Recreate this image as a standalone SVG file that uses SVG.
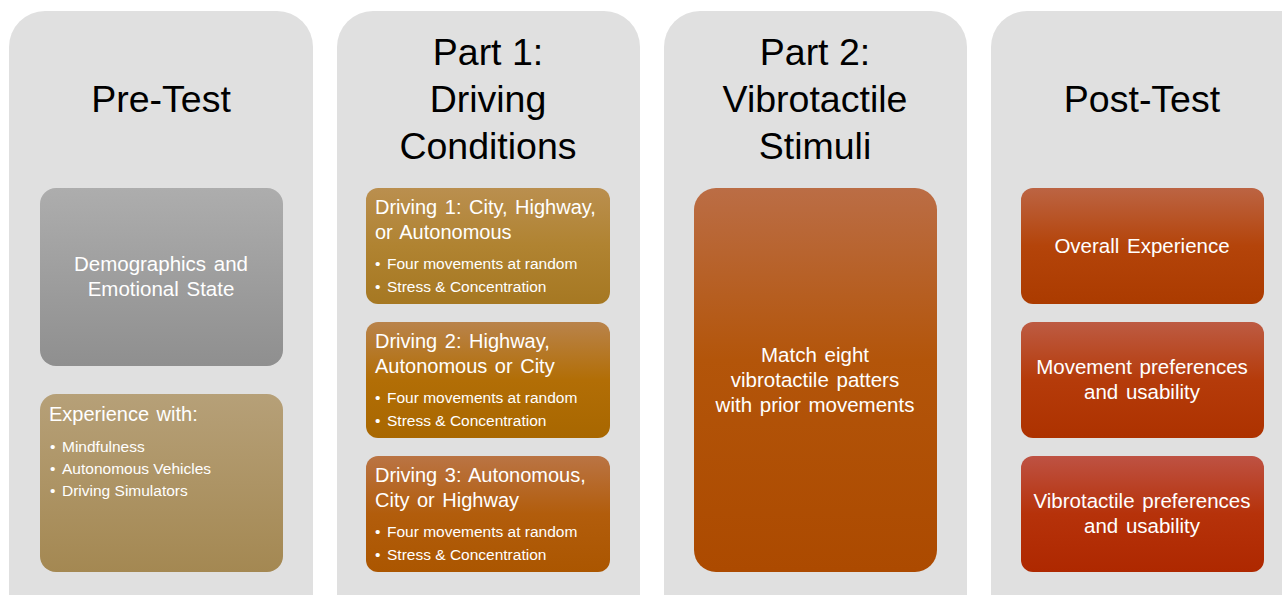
<svg xmlns="http://www.w3.org/2000/svg" width="1282" height="595" viewBox="0 0 1282 595">
  <defs>
    <linearGradient id="gGray" x1="0" y1="0" x2="0" y2="1">
      <stop offset="0" stop-color="#adadad"/>
      <stop offset="1" stop-color="#8f8f8f"/>
    </linearGradient>
    <linearGradient id="gSand" x1="0" y1="0" x2="0" y2="1">
      <stop offset="0" stop-color="#b6a078"/>
      <stop offset="1" stop-color="#a48852"/>
    </linearGradient>
    <linearGradient id="gD1" x1="0" y1="0" x2="0" y2="1">
      <stop offset="0" stop-color="#ba8f4f"/>
      <stop offset="0.5" stop-color="#b08331"/>
      <stop offset="1" stop-color="#a67822"/>
    </linearGradient>
    <linearGradient id="gD2" x1="0" y1="0" x2="0" y2="1">
      <stop offset="0" stop-color="#b9834b"/>
      <stop offset="0.5" stop-color="#b26e06"/>
      <stop offset="1" stop-color="#a86700"/>
    </linearGradient>
    <linearGradient id="gD3" x1="0" y1="0" x2="0" y2="1">
      <stop offset="0" stop-color="#ba7444"/>
      <stop offset="0.5" stop-color="#b25d0c"/>
      <stop offset="1" stop-color="#ab5600"/>
    </linearGradient>
    <linearGradient id="gStim" x1="0" y1="0" x2="0" y2="1">
      <stop offset="0" stop-color="#bb6d45"/>
      <stop offset="0.45" stop-color="#b3550a"/>
      <stop offset="1" stop-color="#ac4a00"/>
    </linearGradient>
    <linearGradient id="gP1" x1="0" y1="0" x2="0" y2="1">
      <stop offset="0" stop-color="#bc6443"/>
      <stop offset="0.5" stop-color="#b4440a"/>
      <stop offset="1" stop-color="#ab3b00"/>
    </linearGradient>
    <linearGradient id="gP2" x1="0" y1="0" x2="0" y2="1">
      <stop offset="0" stop-color="#bd5b43"/>
      <stop offset="0.5" stop-color="#b53b0a"/>
      <stop offset="1" stop-color="#ad3200"/>
    </linearGradient>
    <linearGradient id="gP3" x1="0" y1="0" x2="0" y2="1">
      <stop offset="0" stop-color="#be5243"/>
      <stop offset="0.5" stop-color="#b6320a"/>
      <stop offset="1" stop-color="#ae2800"/>
    </linearGradient>
  </defs>
  <style>
    .col { fill: #e0e0e0; }
    .box { stroke: none; }
    .title { font-family: "Liberation Sans", Arial, sans-serif; font-size: 37.5px; fill: #000; text-anchor: middle; }
    .mid { font-family: "Liberation Sans", Arial, sans-serif; font-size: 20.5px; fill: #fff; text-anchor: middle; word-spacing: 2px; }
    .head { font-family: "Liberation Sans", Arial, sans-serif; font-size: 20px; fill: #fff; word-spacing: 2px; }
    .item { font-family: "Liberation Sans", Arial, sans-serif; font-size: 15.5px; fill: #fff; }
  </style>

  <rect width="1282" height="595" fill="#ffffff"/>

  <!-- column backgrounds -->
  <g id="col-pretest"><rect class="col" x="9" y="11" width="304" height="630" rx="36"/></g>
  <g id="col-part1"><rect class="col" x="337" y="11" width="303" height="630" rx="36"/></g>
  <g id="col-part2"><rect class="col" x="664" y="11" width="303" height="630" rx="36"/></g>
  <g id="col-posttest"><rect class="col" x="991" y="11" width="330" height="630" rx="36"/></g>

  <!-- column titles -->
  <text class="title" x="161" y="112">Pre-Test</text>
  <text class="title" x="488" y="65">Part 1:</text>
  <text class="title" x="488" y="112">Driving</text>
  <text class="title" x="488" y="159">Conditions</text>
  <text class="title" x="815" y="65">Part 2:</text>
  <text class="title" x="815" y="112">Vibrotactile</text>
  <text class="title" x="815" y="159">Stimuli</text>
  <text class="title" x="1142" y="112">Post-Test</text>

  <!-- Pre-Test -->
  <g id="demographics">
    <rect class="box" x="40" y="188" width="243" height="178" rx="16" fill="url(#gGray)"/>
    <text class="mid" x="161" y="271">Demographics and</text>
    <text class="mid" x="161" y="296">Emotional State</text>
  </g>
  <g id="experience">
    <rect class="box" x="40" y="394" width="243" height="178" rx="16" fill="url(#gSand)"/>
    <text class="head" x="49" y="421">Experience with:</text>
    <text class="item" y="452"><tspan x="50">•</tspan><tspan x="62">Mindfulness</tspan></text>
    <text class="item" y="474"><tspan x="50">•</tspan><tspan x="62">Autonomous Vehicles</tspan></text>
    <text class="item" y="496"><tspan x="50">•</tspan><tspan x="62">Driving Simulators</tspan></text>
  </g>

  <!-- Part 1 -->
  <g id="driving1">
    <rect class="box" x="366" y="188" width="244" height="116" rx="12" fill="url(#gD1)"/>
    <text class="head" x="375" y="214">Driving 1: City, Highway,</text>
    <text class="head" x="375" y="239">or Autonomous</text>
    <text class="item" y="269"><tspan x="375">•</tspan><tspan x="387">Four movements at random</tspan></text>
    <text class="item" y="292"><tspan x="375">•</tspan><tspan x="387">Stress &amp; Concentration</tspan></text>
  </g>
  <g id="driving2">
    <rect class="box" x="366" y="322" width="244" height="116" rx="12" fill="url(#gD2)"/>
    <text class="head" x="375" y="348">Driving 2: Highway,</text>
    <text class="head" x="375" y="373">Autonomous or City</text>
    <text class="item" y="403"><tspan x="375">•</tspan><tspan x="387">Four movements at random</tspan></text>
    <text class="item" y="426"><tspan x="375">•</tspan><tspan x="387">Stress &amp; Concentration</tspan></text>
  </g>
  <g id="driving3">
    <rect class="box" x="366" y="456" width="244" height="116" rx="12" fill="url(#gD3)"/>
    <text class="head" x="375" y="482">Driving 3: Autonomous,</text>
    <text class="head" x="375" y="507">City or Highway</text>
    <text class="item" y="537"><tspan x="375">•</tspan><tspan x="387">Four movements at random</tspan></text>
    <text class="item" y="560"><tspan x="375">•</tspan><tspan x="387">Stress &amp; Concentration</tspan></text>
  </g>

  <!-- Part 2 -->
  <g id="stimuli">
    <rect class="box" x="694" y="188" width="243" height="384" rx="22" fill="url(#gStim)"/>
    <text class="mid" x="815" y="362">Match eight</text>
    <text class="mid" x="815" y="387">vibrotactile patters</text>
    <text class="mid" x="815" y="412">with prior movements</text>
  </g>

  <!-- Post-Test -->
  <g id="overall">
    <rect class="box" x="1021" y="188" width="243" height="116" rx="12" fill="url(#gP1)"/>
    <text class="mid" x="1142" y="253">Overall Experience</text>
  </g>
  <g id="movement-prefs">
    <rect class="box" x="1021" y="322" width="243" height="116" rx="12" fill="url(#gP2)"/>
    <text class="mid" x="1142" y="374">Movement preferences</text>
    <text class="mid" x="1142" y="399">and usability</text>
  </g>
  <g id="vibro-prefs">
    <rect class="box" x="1021" y="456" width="243" height="116" rx="12" fill="url(#gP3)"/>
    <text class="mid" x="1142" y="508">Vibrotactile preferences</text>
    <text class="mid" x="1142" y="533">and usability</text>
  </g>

  <!-- no connectors in this layout -->
  <g id="connectors"/>
</svg>
